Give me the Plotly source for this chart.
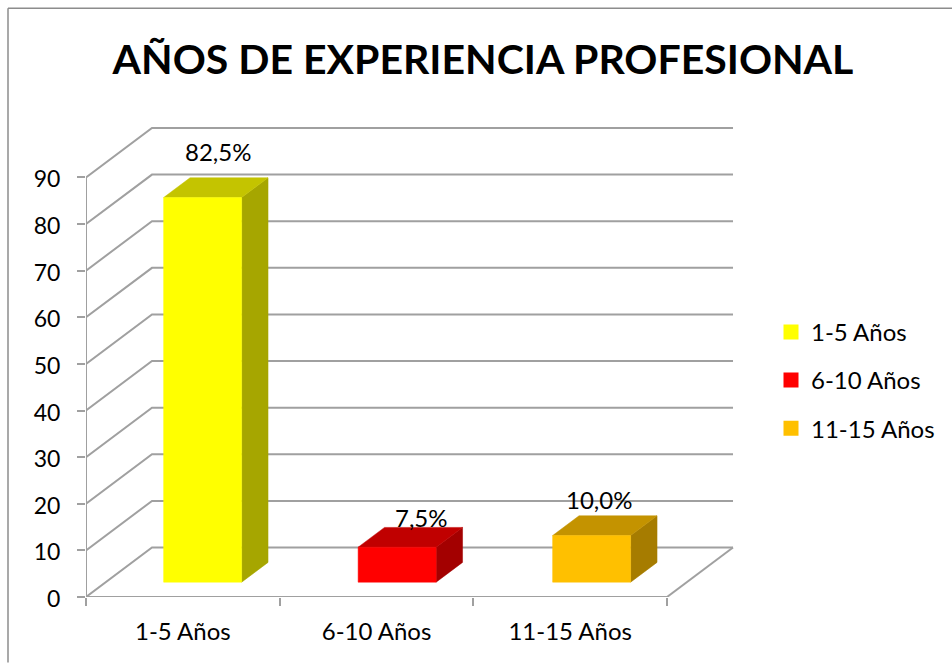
"""3D-look column chart of years of professional experience."""

import plotly.graph_objects as go

CATEGORIES = ["1-5 Años", "6-10 Años", "11-15 Años"]
VALUES = [82.5, 7.5, 10.0]
VALUE_LABELS = ["82,5%", "7,5%", "10,0%"]
Y_TICKS = [0, 10, 20, 30, 40, 50, 60, 70, 80, 90]
TITLE = "AÑOS DE EXPERIENCIA PROFESIONAL"

FRONT_COLORS = ["#FFFF00", "#FF0000", "#FFC000"]
TOP_COLORS = ["#C4C400", "#C00000", "#C49300"]
SIDE_COLORS = ["#A6A600", "#A30000", "#A67C00"]
LINE = "#A0A0A0"
BORDER = "#8C8C8C"
FONT = "Lato, sans-serif"

# pixel frame of the drawing and the oblique projection of the depth axis
WIDTH, HEIGHT = 952, 663
LEFT, RIGHT, TOP, BOTTOM = 86, 734, 127, 597.5
PX_PER_CAT = 193.67
PX_PER_UNIT = 4.667
DEPTH_X = 66 / PX_PER_CAT
DEPTH_Y = 49.5 / PX_PER_UNIT
BAR_WIDTH = 78 / PX_PER_CAT
BAR_STEP = 194.5 / PX_PER_CAT
BAR_DEPTH = (0.3, 0.7)
LABEL_SHIFT = [(2, 26), (11, 10), (-6, 16)]


def project(x, y, depth):
    """Move a point from the front plane towards the back wall."""
    return x + DEPTH_X * depth, y + DEPTH_Y * depth


def face(points, color):
    xs, ys = zip(*points)
    return go.Scatter(
        x=list(xs) + [xs[0]],
        y=list(ys) + [ys[0]],
        mode="lines",
        fill="toself",
        fillcolor=color,
        line=dict(color=color, width=0.5),
        hoverinfo="skip",
        showlegend=False,
    )


n = len(CATEGORIES)
wall_x, wall_y = [], []
for tick in Y_TICKS:
    for point in (project(0, tick, 0), project(0, tick, 1), project(n, tick, 1)):
        wall_x.append(point[0])
        wall_y.append(point[1])
    wall_x.append(None)
    wall_y.append(None)
# left wall edges, floor edges
for start, end in [
    (project(0, 0, 0), project(0, Y_TICKS[-1], 0)),
    (project(0, 0, 0), project(n, 0, 0)),
    (project(n, 0, 0), project(n, 0, 1)),
]:
    wall_x += [start[0], end[0], None]
    wall_y += [start[1], end[1], None]

fig = go.Figure()
fig.add_trace(
    go.Scatter(
        x=wall_x,
        y=wall_y,
        mode="lines",
        line=dict(color=LINE, width=2),
        cliponaxis=False,
        hoverinfo="skip",
        showlegend=False,
    )
)

annotations = []
for i, value in enumerate(VALUES):
    center = 0.5 + i * BAR_STEP
    x0 = center - BAR_WIDTH / 2
    x1 = center + BAR_WIDTH / 2
    near, far = BAR_DEPTH
    a = project(x0, 0, near)
    b = project(x1, 0, near)
    c = project(x1, value, near)
    d = project(x0, value, near)
    e = project(x1, 0, far)
    f = project(x1, value, far)
    g = project(x0, value, far)
    fig.add_trace(face([b, e, f, c], SIDE_COLORS[i]))
    fig.add_trace(face([d, c, f, g], TOP_COLORS[i]))
    fig.add_trace(face([a, b, c, d], FRONT_COLORS[i]))
    top_x = (g[0] + f[0]) / 2
    annotations.append(
        dict(
            x=top_x - (f[0] - c[0]) / 2,
            y=f[1],
            text=VALUE_LABELS[i],
            showarrow=False,
            xshift=LABEL_SHIFT[i][0],
            yshift=LABEL_SHIFT[i][1],
            font=dict(size=24, color="#000000", family=FONT),
        )
    )

# legend keys
for name, color in zip(CATEGORIES, FRONT_COLORS):
    fig.add_trace(
        go.Scatter(
            x=[None],
            y=[None],
            name=name,
            legendgroup=name,
            mode="markers",
            marker=dict(symbol="square", size=15, color=color),
        )
    )

plot_w = RIGHT - LEFT
plot_h = BOTTOM - TOP
border = dict(color=BORDER, width=1.5)
fig.update_layout(
    width=WIDTH,
    height=HEIGHT,
    autosize=False,
    margin=dict(l=LEFT, r=WIDTH - RIGHT, t=TOP, b=HEIGHT - BOTTOM, pad=0),
    paper_bgcolor="white",
    plot_bgcolor="white",
    font=dict(color="#000000", family=FONT, size=23),
    title=dict(
        text=f"<b>{TITLE}</b>",
        font=dict(size=41, color="#000000", family=FONT),
        x=483 / WIDTH,
        xref="container",
        xanchor="center",
        y=1 - 60 / HEIGHT,
        yref="container",
        yanchor="middle",
    ),
    annotations=annotations,
    legend=dict(
        x=(771 - LEFT) / plot_w,
        xanchor="left",
        y=(BOTTOM - 310) / plot_h,
        yanchor="top",
        tracegroupgap=14,
        font=dict(size=24, family=FONT),
        bgcolor="rgba(0,0,0,0)",
    ),
    shapes=[
        dict(type="line", xref="paper", yref="paper", line=border,
             x0=(8 - LEFT) / plot_w, x1=(WIDTH - LEFT) / plot_w,
             y0=(BOTTOM - 8) / plot_h, y1=(BOTTOM - 8) / plot_h),
        dict(type="line", xref="paper", yref="paper", line=border,
             x0=(8 - LEFT) / plot_w, x1=(8 - LEFT) / plot_w,
             y0=(BOTTOM - 8) / plot_h, y1=(BOTTOM - HEIGHT) / plot_h),
    ],
)
fig.update_xaxes(
    range=[0, plot_w / PX_PER_CAT],
    tickmode="array",
    tickvals=[i + 0.5 for i in range(n)],
    ticktext=CATEGORIES,
    ticks="",
    showgrid=False,
    zeroline=False,
    showline=False,
    ticklabelstandoff=18,
    tickfont=dict(size=24),
    minor=dict(
        tickmode="array",
        tickvals=list(range(n + 1)),
        ticks="outside",
        ticklen=8,
        tickwidth=2,
        tickcolor=LINE,
        showgrid=False,
    ),
)
fig.update_yaxes(
    range=[0, plot_h / PX_PER_UNIT],
    tickmode="array",
    tickvals=Y_TICKS,
    ticks="outside",
    ticklen=8,
    tickwidth=2,
    tickcolor=LINE,
    ticklabelstandoff=12,
    ticklabelshift=2,
    showgrid=False,
    zeroline=False,
    showline=False,
)

fig.write_html(
    "out.html",
    config=dict(displayModeBar=False),
    post_script="document.body.style.margin='0';",
)
